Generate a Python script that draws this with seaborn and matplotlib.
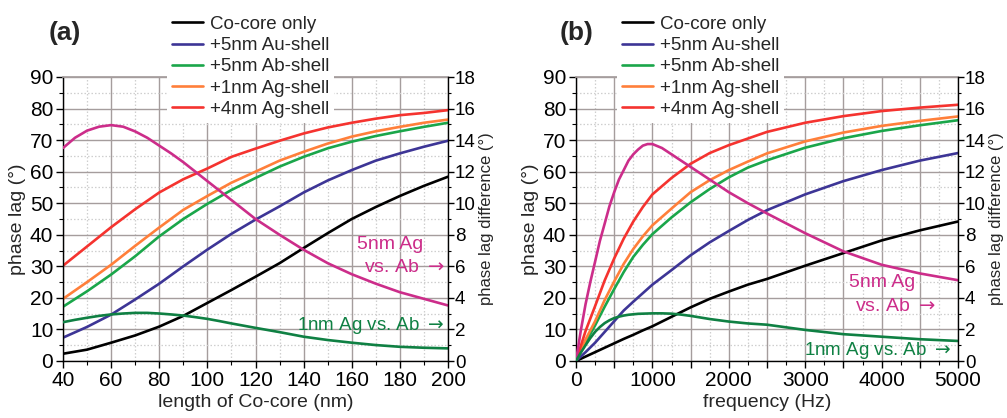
import numpy as np
import pandas as pd
import matplotlib
matplotlib.use("Agg")
import matplotlib.pyplot as plt
import seaborn as sns
from matplotlib.ticker import MultipleLocator, FuncFormatter
from matplotlib.lines import Line2D

# ---------------- data: panel (a) ----------------
length_nm = [40, 50, 60, 70, 80, 90, 100, 110, 120, 130, 140, 150, 160, 170, 180, 190, 200]
a_core = [2.3, 3.6, 5.8, 8.1, 10.9, 14.3, 18.4, 22.5, 26.7, 31.0, 35.8, 40.5, 45.0, 48.8, 52.3, 55.5, 58.4]
a_au5 = [7.4, 10.8, 14.7, 19.5, 24.5, 30.0, 35.3, 40.3, 44.8, 49.0, 53.4, 57.2, 60.5, 63.5, 65.8, 67.9, 69.8]
a_ab5 = [17.2, 22.1, 27.4, 33.2, 39.5, 45.0, 49.8, 54.2, 58.0, 61.6, 64.7, 67.4, 69.5, 71.3, 72.8, 74.2, 75.5]
a_ag1 = [19.7, 25.0, 30.5, 36.5, 42.3, 47.9, 52.3, 56.5, 60.0, 63.5, 66.3, 68.9, 71.1, 72.8, 74.2, 75.5, 76.5]
a_ag4 = [30.2, 36.3, 42.4, 48.1, 53.4, 57.6, 61.0, 64.7, 67.3, 69.8, 72.1, 74.0, 75.5, 76.8, 77.9, 78.6, 79.5]
# phase-lag differences (right axis), read at 5 nm steps
length_nm_fine = [40, 45, 50, 55, 60, 65, 70, 75, 80, 85, 90, 95, 100, 105, 110, 115, 120, 130, 140,
                  150, 160, 170, 180, 190, 200]
a_diff5 = [13.5, 14.15, 14.6, 14.85, 14.95, 14.85, 14.55, 14.15, 13.65, 13.15, 12.6, 12.0, 11.4,
           10.8, 10.2, 9.6, 9.0, 8.0, 7.05, 6.2, 5.5, 4.9, 4.36, 3.94, 3.52]
a_diff1 = [2.46, 2.61, 2.74, 2.86, 2.95, 3.01, 3.05, 3.05, 3.01, 2.95, 2.88, 2.78, 2.67, 2.53,
           2.38, 2.24, 2.1, 1.83, 1.54, 1.33, 1.16, 1.01, 0.9, 0.84, 0.8]

# ---------------- data: panel (b) ----------------
freq_hz = [0, 125, 250, 375, 500, 625, 750, 875, 1000, 1250, 1500, 1750, 2000, 2250, 2500,
           3000, 3500, 4000, 4500, 5000]
b_core = [0, 1.4, 2.8, 4.2, 5.6, 7.0, 8.3, 9.7, 11.0, 14.0, 17.0, 19.7, 22.0, 24.2, 26.0,
          30.2, 34.2, 38.2, 41.4, 44.2]
b_au5 = [0, 2.8, 5.8, 9.2, 12.6, 16.0, 18.8, 21.5, 24.2, 28.8, 33.5, 37.6, 41.2, 44.7, 47.8,
         52.8, 57.0, 60.5, 63.5, 65.9]
b_ab5 = [0, 5.8, 11.3, 17.2, 22.8, 28.2, 33.0, 36.8, 40.2, 45.5, 50.3, 54.5, 58.2, 61.3, 63.6,
         67.6, 70.6, 72.9, 74.7, 76.3]
b_ag1 = [0, 6.8, 12.6, 19.3, 25.2, 30.8, 35.5, 39.5, 43.0, 48.3, 53.5, 57.3, 60.5, 63.2, 65.8,
         69.6, 72.4, 74.5, 76.1, 77.5]
b_ag4 = [0, 9.5, 17.4, 25.5, 32.5, 38.8, 44.2, 48.8, 52.8, 58.0, 62.5, 65.9, 68.4, 70.5, 72.6,
         75.5, 77.6, 79.2, 80.3, 81.2]
# phase-lag differences (right axis), read more densely at low frequency
freq_hz_fine = [0, 62, 125, 187, 250, 312, 375, 437, 500, 562, 625, 687, 750, 812, 875, 937,
                1000, 1125, 1250, 1375, 1500, 1750, 2000, 2250, 2500, 3000, 3500, 4000, 4500, 5000]
b_diff5 = [0, 1.9, 3.6, 5.0, 6.3, 7.6, 8.7, 9.8, 10.7, 11.5, 12.1, 12.7, 13.1, 13.4, 13.65, 13.75,
           13.75, 13.5, 13.1, 12.7, 12.3, 11.5, 10.7, 10.0, 9.35, 8.1, 6.95, 6.1, 5.55, 5.12]
b_diff1 = [0, 0.52, 1.0, 1.45, 1.85, 2.15, 2.4, 2.58, 2.72, 2.81, 2.88, 2.93, 2.96, 2.99, 3.0, 3.01,
           3.02, 3.02, 3.0, 2.94, 2.86, 2.66, 2.5, 2.38, 2.3, 1.97, 1.7, 1.54, 1.38, 1.27]

series_names = ["Co-core only", "+5nm Au-shell", "+5nm Ab-shell", "+1nm Ag-shell", "+4nm Ag-shell"]
diff_names = ["5nm Ag vs. Ab", "1nm Ag vs. Ab"]

colors = {
    "Co-core only": "#000000",
    "+5nm Au-shell": "#3d3596",
    "+5nm Ab-shell": "#1aa64a",
    "+1nm Ag-shell": "#ff7f3a",
    "+4nm Ag-shell": "#f5332f",
}
diff_colors = {"5nm Ag vs. Ab": "#cc2d8a", "1nm Ag vs. Ab": "#0f8043"}

sns.set_theme(style="white")
plt.rcParams["font.family"] = ["Liberation Sans", "DejaVu Sans"]
plt.rcParams["axes.unicode_minus"] = False
plt.rcParams["mathtext.fontset"] = "dejavusans"

W, H = 1007, 418
fig = plt.figure(figsize=(W / 100, H / 100), dpi=100)

GRID_MAJ = "#a59d9d"
GRID_MIN = "#cfcfcf"
TICK_FS = 15
LAB_FS = 14


def make_long(xs, arrays, names):
    rows = []
    for x, name, arr in zip(xs, names, arrays):
        for xi, yi in zip(x, arr):
            rows.append((xi, yi, name))
    return pd.DataFrame(rows, columns=["x", "y", "series"])


def panel(rect, x, curves, xd, diffs, xlim, xmaj, xmin, xlabfmt, xlabel,
          label, label_xy, leg_xy, ann5, ann1, rlab_x):
    ax = fig.add_axes(rect)
    df = make_long([x] * len(curves), curves, series_names)
    sns.lineplot(data=df, x="x", y="y", hue="series", palette=colors,
                 hue_order=series_names, ax=ax, linewidth=1.9, legend=False,
                 estimator=None, sort=False)
    ax.set_xlim(*xlim)
    ax.set_ylim(0, 90)
    ax.xaxis.set_major_locator(MultipleLocator(xmaj))
    ax.xaxis.set_minor_locator(MultipleLocator(xmin))
    ax.xaxis.set_major_formatter(FuncFormatter(xlabfmt))
    ax.yaxis.set_major_locator(MultipleLocator(10))
    ax.yaxis.set_minor_locator(MultipleLocator(5))
    ax.set_axisbelow(True)
    ax.grid(which="major", color=GRID_MAJ, linewidth=1.0, linestyle="-")
    ax.grid(which="minor", color=GRID_MIN, linewidth=0.9, linestyle=(0, (1.2, 1.6)))
    ax.tick_params(which="major", direction="out", length=5, width=1, colors="black",
                   labelsize=TICK_FS, pad=2, left=True, bottom=True)
    ax.tick_params(which="minor", direction="out", length=3, width=0.8, colors="black",
                   left=True, bottom=True)
    for s in ["left", "bottom"]:
        ax.spines[s].set_color("black")
        ax.spines[s].set_linewidth(1.0)
    ax.spines["top"].set_color(GRID_MAJ)
    ax.spines["right"].set_visible(False)
    ax.set_xlabel(xlabel, fontsize=LAB_FS, labelpad=3)
    ax.set_ylabel("phase lag (°)", fontsize=LAB_FS, labelpad=3)

    ax2 = ax.twinx()
    df2 = make_long(xd, diffs, diff_names)
    sns.lineplot(data=df2, x="x", y="y", hue="series", palette=diff_colors,
                 hue_order=diff_names, ax=ax2, linewidth=1.9, legend=False,
                 estimator=None, sort=False)
    ax2.set_ylim(0, 18)
    ax2.yaxis.set_major_locator(MultipleLocator(2))
    ax2.yaxis.set_minor_locator(MultipleLocator(1))
    ax2.tick_params(which="major", direction="out", length=4, width=1, colors="black",
                    labelsize=13.5, pad=1, right=True)
    ax2.tick_params(which="minor", direction="out", length=2.5, width=0.8, colors="black",
                    right=True)
    ax2.spines["right"].set_color("black")
    ax2.spines["right"].set_linewidth(1.0)
    for s in ["left", "bottom", "top"]:
        ax2.spines[s].set_visible(False)
    ax2.set_ylabel("")
    ax2.grid(False)
    fig.text(rlab_x / W, (57 + 284 / 2) / H, "phase lag difference (°)", fontsize=12,
             rotation=90, ha="center", va="center")

    handles = [Line2D([], [], color=colors[n], linewidth=1.9) for n in series_names]
    leg = ax2.legend(handles, series_names, loc="upper left",
                     bbox_to_anchor=(leg_xy[0] / W, 1 - leg_xy[1] / H),
                     bbox_transform=fig.transFigure, frameon=True, fontsize=13.5,
                     handlelength=1.65, handletextpad=0.4, labelspacing=0.22,
                     borderpad=0.25, borderaxespad=0.0, fancybox=False)
    leg.get_frame().set_facecolor("white")
    leg.get_frame().set_edgecolor("none")
    leg.get_frame().set_alpha(1.0)
    leg.set_zorder(20)

    fig.text(label_xy[0] / W, 1 - label_xy[1] / H, label, fontsize=19,
             fontweight="bold", ha="center", va="center")

    c5 = diff_colors["5nm Ag vs. Ab"]
    c1 = diff_colors["1nm Ag vs. Ab"]
    for (tx, ty, t) in ann5:
        ax.text(tx, ty, t, color=c5, fontsize=14, ha="right", va="center")
    for (tx, ty, t) in ann1:
        ax.text(tx, ty, t, color=c1, fontsize=13.5, ha="right", va="center")
    return ax, ax2


panel([63 / W, 57 / H, 385 / W, 284 / H], length_nm,
      [a_core, a_au5, a_ab5, a_ag1, a_ag4], [length_nm_fine, length_nm_fine], [a_diff5, a_diff1],
      (40, 200), 20, 10, lambda v, p: f"{v:.0f}", "length of Co-core (nm)",
      "(a)", (65, 33), (167, 11),
      [(189.6, 36.8, "5nm Ag"), (198.6, 29.5, r"vs. Ab $\rightarrow$")],
      [(198.6, 11.1, r"1nm Ag vs. Ab $\rightarrow$")], 487)

panel([576 / W, 57 / H, 382 / W, 284 / H], freq_hz,
      [b_core, b_au5, b_ab5, b_ag1, b_ag4], [freq_hz_fine, freq_hz_fine], [b_diff5, b_diff1],
      (0, 5000), 500, 250,
      lambda v, p: (f"{v:.0f}" if abs(v % 1000) < 1e-6 else ""), "frequency (Hz)",
      "(b)", (577, 33), (617, 11),
      [(4442, 24.8, "5nm Ag"), (4714, 17.4, r"vs. Ab $\rightarrow$")],
      [(4909, 3.3, r"1nm Ag vs. Ab $\rightarrow$")], 996.5)

fig.savefig("out.png", dpi=100)
